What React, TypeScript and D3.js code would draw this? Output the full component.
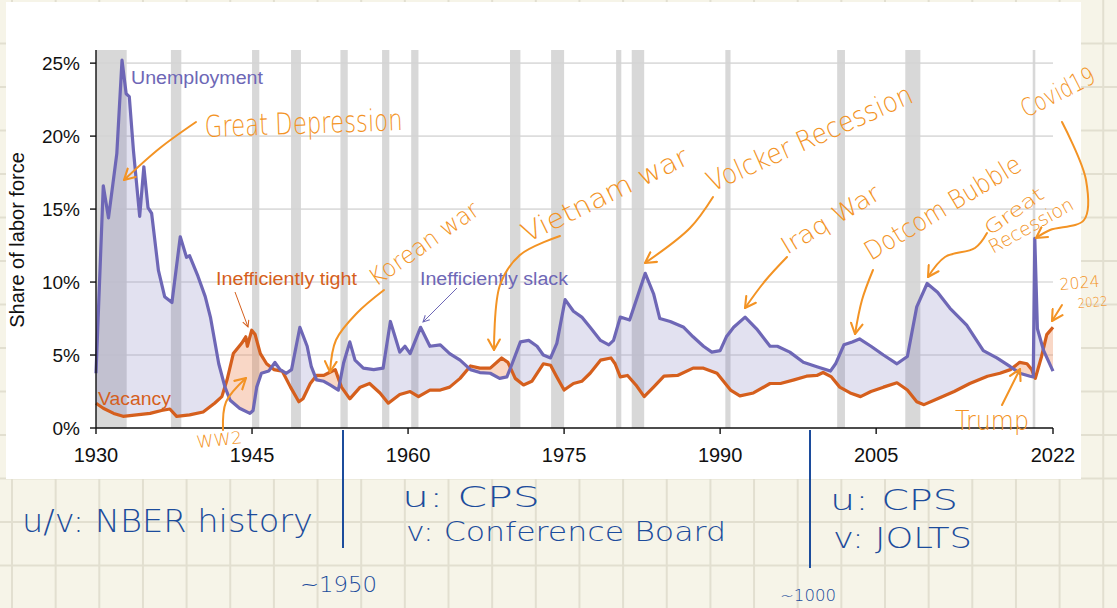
import * as d3 from 'd3'

// unemployment rate (% of labor force)
const uYears = [1930.0, 1930.7, 1931.2, 1931.8, 1932.0, 1932.5, 1932.9, 1933.2, 1933.6, 1934.2, 1934.6, 1935.0, 1935.35, 1936.0, 1936.6, 1937.3, 1938.1, 1938.7, 1939.0, 1939.8, 1940.5, 1941.0, 1941.8, 1942.4, 1942.9, 1943.8, 1944.8, 1945.1, 1945.45, 1945.9, 1946.6, 1947.2, 1947.7, 1948.3, 1948.8, 1949.6, 1950.3, 1950.7, 1951.2, 1951.9, 1952.5, 1953.3, 1953.8, 1954.4, 1954.9, 1955.7, 1956.7, 1957.6, 1958.3, 1958.75, 1959.2, 1959.7, 1960.2, 1961.2, 1962.1, 1963.1, 1964.0, 1965.0, 1966.0, 1966.9, 1967.9, 1968.8, 1969.5, 1970.0, 1970.8, 1971.6, 1972.4, 1973.0, 1973.7, 1974.3, 1975.1, 1975.9, 1976.7, 1977.5, 1978.5, 1979.3, 1979.75, 1980.4, 1981.3, 1982.8, 1983.6, 1984.2, 1985.2, 1986.5, 1987.4, 1988.4, 1989.2, 1990.0, 1990.6, 1991.3, 1992.4, 1993.5, 1994.8, 1995.5, 1996.7, 1998.0, 1999.3, 2000.6, 2001.1, 2001.9, 2002.7, 2003.4, 2004.5, 2005.7, 2007.0, 2008.0, 2008.9, 2009.9, 2010.9, 2012.1, 2013.7, 2015.3, 2016.6, 2017.9, 2018.8, 2019.8, 2020.1, 2020.25, 2020.5, 2021.1, 2022.0]
const uRate = [3.75, 16.6, 14.4, 17.7, 18.8, 25.2, 22.9, 22.7, 19.0, 14.5, 17.9, 15.1, 14.7, 10.8, 9.0, 8.6, 13.1, 11.7, 11.8, 10.4, 9.0, 7.6, 4.4, 2.8, 1.9, 1.35, 1.0, 1.2, 2.8, 3.75, 3.9, 4.5, 4.0, 3.75, 4.0, 6.9, 5.6, 4.2, 3.3, 3.2, 2.95, 2.6, 4.45, 5.9, 4.65, 4.1, 4.0, 4.1, 7.3, 6.25, 5.2, 5.6, 5.1, 6.9, 5.6, 5.7, 5.1, 4.65, 4.0, 3.8, 3.75, 3.4, 3.5, 4.4, 5.9, 6.0, 5.6, 5.0, 4.8, 5.8, 8.8, 8.0, 7.6, 6.9, 6.0, 5.7, 6.0, 7.6, 7.4, 10.6, 9.2, 7.5, 7.3, 6.9, 6.25, 5.6, 5.2, 5.3, 6.25, 6.9, 7.6, 6.8, 5.6, 5.6, 5.2, 4.5, 4.2, 3.9, 4.4, 5.7, 5.9, 6.1, 5.6, 5.0, 4.4, 4.9, 8.3, 9.9, 9.3, 8.2, 7.05, 5.3, 4.8, 4.2, 3.75, 3.55, 3.5, 13.0, 6.8, 5.3, 3.9]

// job vacancies (% of labor force)
const vYears = [1930.0, 1930.7, 1931.7, 1932.6, 1933.9, 1935.2, 1936.3, 1937.1, 1937.75, 1939.0, 1940.3, 1941.4, 1942.1, 1942.6, 1943.2, 1944.0, 1944.4, 1944.55, 1944.97, 1945.3, 1945.8, 1946.4, 1947.1, 1947.9, 1948.7, 1949.5, 1949.9, 1950.6, 1951.2, 1951.9, 1952.3, 1953.0, 1953.6, 1954.4, 1955.4, 1956.3, 1957.3, 1958.1, 1959.2, 1960.2, 1961.0, 1962.1, 1963.1, 1964.0, 1965.0, 1966.0, 1966.9, 1967.9, 1969.0, 1969.6, 1970.3, 1971.1, 1971.9, 1973.0, 1973.7, 1974.3, 1975.0, 1975.9, 1976.7, 1977.5, 1978.5, 1979.5, 1979.9, 1980.4, 1981.1, 1981.9, 1982.7, 1983.6, 1984.6, 1985.9, 1987.4, 1988.4, 1989.7, 1991.0, 1991.9, 1993.2, 1994.8, 1995.8, 1997.1, 1998.3, 1999.3, 1999.9, 2000.7, 2001.5, 2002.5, 2003.5, 2004.5, 2005.7, 2007.0, 2008.0, 2008.9, 2009.6, 2010.9, 2012.5, 2014.0, 2015.7, 2016.9, 2017.9, 2018.8, 2019.5, 2019.95, 2020.3, 2020.9, 2021.4, 2022.0]
const vRate = [1.7, 1.35, 1.0, 0.8, 0.9, 1.0, 1.2, 1.3, 0.8, 0.9, 1.1, 1.7, 2.15, 3.3, 5.1, 5.8, 6.25, 5.6, 6.7, 6.4, 5.1, 4.4, 4.0, 3.9, 2.8, 1.8, 2.0, 3.05, 3.6, 3.6, 3.75, 4.0, 2.8, 2.0, 2.8, 3.05, 2.4, 1.7, 2.3, 2.5, 2.15, 2.6, 2.6, 2.8, 3.4, 4.25, 4.1, 4.1, 4.8, 4.5, 3.4, 2.95, 3.2, 4.4, 4.3, 3.5, 2.6, 3.05, 3.2, 3.75, 4.65, 4.8, 4.4, 3.5, 3.6, 2.95, 2.15, 2.8, 3.55, 3.6, 4.1, 4.1, 3.75, 2.6, 2.2, 2.4, 3.05, 3.05, 3.3, 3.55, 3.6, 3.8, 3.5, 2.8, 2.4, 2.15, 2.5, 2.8, 3.1, 2.6, 1.8, 1.6, 2.0, 2.5, 3.05, 3.55, 3.75, 4.0, 4.5, 4.4, 4.0, 3.4, 4.9, 6.4, 6.9]

// NBER recessions (shaded)
const recStart = [1929.67, 1937.2, 1945.0, 1948.75, 1953.5, 1957.5, 1960.3, 1969.8, 1973.75, 1980.0, 1981.5, 1990.5, 2001.25, 2007.8, 2020.05]
const recEnd = [1932.95, 1938.2, 1945.7, 1949.7, 1954.2, 1958.2, 1961.0, 1970.8, 1975.0, 1980.5, 1982.7, 1991.0, 2002.0, 2009.25, 2020.3]

const xTicks = [1930, 1945, 1960, 1975, 1990, 2005, 2022]
const yTicks = [0, 5, 10, 15, 20, 25]

const W = 1117
const H = 608
const plot = { left: 96, right: 1053, top: 50, bottom: 428 }

const PURPLE = '#6e67b6'
const RUST = '#d55f1d'
const PEN_ORANGE = '#f39324'
const PEN_BLUE = '#1c4c9c'
const HAND = '"DejaVu Sans", sans-serif'
const SANS = '"Liberation Sans", Arial, Helvetica, sans-serif'

// orange pen notes (baseline start, rotation, size, width)
const penNotes = [
	{ t: 'Great Depression', x: 205, y: 137, r: -2, s: 30, w: 198 },
	{ t: 'WW2', x: 197, y: 448, r: -6, s: 17, w: 46 },
	{ t: 'Korean war', x: 376, y: 287, r: -35, s: 24, w: 128 },
	{ t: 'Vietnam war', x: 527, y: 243, r: -26, s: 27, w: 182 },
	{ t: 'Volcker Recession', x: 712, y: 192, r: -24, s: 28, w: 222 },
	{ t: 'Iraq War', x: 787, y: 255, r: -31, s: 24, w: 111 },
	{ t: 'Dotcom Bubble', x: 871, y: 261, r: -31, s: 26, w: 178 },
	{ t: 'Great', x: 990, y: 236, r: -35, s: 19, w: 68 },
	{ t: 'Recession', x: 993, y: 254, r: -29, s: 19, w: 94 },
	{ t: 'Covid19', x: 1026, y: 118, r: -27, s: 25, w: 80 },
	{ t: '2024', x: 1060, y: 290, r: -5, s: 16, w: 40 },
	{ t: '2022', x: 1078, y: 308, r: -5, s: 13, w: 30 },
	{ t: 'Trump', x: 955, y: 430, r: 0, s: 26, w: 74 },
]

const penArrows = [
	[[196, 122], [160, 148], [124, 180]],
	[[223, 430], [226, 402], [246, 378]],
	[[384, 290], [357, 313], [336, 340], [330, 372]],
	[[560, 236], [520, 255], [500, 285], [494, 350]],
	[[713, 197], [690, 228], [645, 263]],
	[[787, 257], [765, 281], [745, 308]],
	[[873, 270], [862, 300], [855, 334]],
	[[987, 233], [975, 248], [945, 257], [928, 277]],
	[[1062, 122], [1086, 180], [1084, 220], [1050, 230], [1036, 238]],
	[[1062, 305], [1052, 321]],
	[[1002, 405], [1020, 369]],
]

const blueNotes = [
	{ t: 'u/v: NBER history', x: 22, y: 532, s: 32, w: 291 },
	{ t: 'u: CPS', x: 402, y: 507, s: 28, w: 138 },
	{ t: 'v: Conference Board', x: 406, y: 541, s: 26, w: 320 },
	{ t: 'u: CPS', x: 830, y: 510, s: 28, w: 128 },
	{ t: 'v: JOLTS', x: 833, y: 548, s: 28, w: 139 },
	{ t: '~1950', x: 300, y: 592, s: 22, w: 77 },
	{ t: '~1000', x: 780, y: 601, s: 15, w: 56 },
]

export default function App() {
	const x = d3.scaleLinear().domain([1930, 2022]).range([plot.left, plot.right])
	const y = d3.scaleLinear().domain([0, 25.9]).range([plot.bottom, plot.top])

	const uPts: [number, number][] = uYears.map((yr, i) => [yr, uRate[i]])
	const vPts: [number, number][] = vYears.map((yr, i) => [yr, vRate[i]])

	const line = d3.line<[number, number]>().x(d => x(d[0])).y(d => y(d[1]))
	const below = d3.area<[number, number]>().x(d => x(d[0])).y0(plot.bottom).y1(d => y(d[1]))
	const above = d3.area<[number, number]>().x(d => x(d[0])).y0(0).y1(d => y(d[1]))
	const pen = d3.line().curve(d3.curveCatmullRom.alpha(0.5))

	// notebook paper grid
	const vLines = d3.range(0, 26).map(k => 12 + 43.65 * k)
	const hLines = d3.range(1, 14).map(k => 43.5 * k)

	return (
		<svg width={W} height={H} style={{ position: 'absolute', left: 0, top: 0 }}>
			<defs>
				<clipPath id="belowU"><path d={below(uPts) || ''} /></clipPath>
				<clipPath id="belowV"><path d={below(vPts) || ''} /></clipPath>
				<marker id="penHead" viewBox="0 0 12 12" refX="10" refY="6" markerWidth="14" markerHeight="14" markerUnits="userSpaceOnUse" orient="auto">
					<path d="M1,1 L10,6 L1,11" fill="none" stroke={PEN_ORANGE} strokeWidth="1.8" strokeLinecap="round" strokeLinejoin="round" />
				</marker>
				<marker id="rustHead" viewBox="0 0 10 10" refX="9" refY="5" markerWidth="8" markerHeight="8" markerUnits="userSpaceOnUse" orient="auto">
					<path d="M1,1 L9,5 L1,9" fill="none" stroke={RUST} strokeWidth="1.3" />
				</marker>
				<marker id="purpleHead" viewBox="0 0 10 10" refX="9" refY="5" markerWidth="8" markerHeight="8" markerUnits="userSpaceOnUse" orient="auto">
					<path d="M1,1 L9,5 L1,9" fill="none" stroke={PURPLE} strokeWidth="1.3" />
				</marker>
			</defs>

			<rect width={W} height={H} fill="#f6f4e8" />
			{vLines.map((lx, i) => <line key={'gv' + i} x1={lx} x2={lx} y1={0} y2={H} stroke="#e2dfd0" strokeWidth={2} />)}
			{hLines.map((ly, i) => <line key={'gh' + i} x1={0} x2={W} y1={ly} y2={ly} stroke="#e2dfd0" strokeWidth={2} />)}

			{/* screenshot panel */}
			<rect x={6} y={2} width={1075} height={477} fill="#ffffff" />

			{/* recessions */}
			{recStart.map((s, i) => {
				const x0 = Math.max(x(s), plot.left)
				return <rect key={'r' + i} x={x0} y={plot.top} width={x(recEnd[i]) - x0} height={plot.bottom - plot.top} fill="#d8d8d8" />
			})}

			{/* gridlines */}
			{yTicks.filter(t => t > 0).map(t => (
				<line key={'y' + t} x1={plot.left} x2={plot.right} y1={y(t)} y2={y(t)} stroke="#d4d4d4" strokeOpacity={0.8} strokeWidth={1.6} />
			))}

			{/* gaps between u and v */}
			<path d={above(vPts) || ''} clipPath="url(#belowU)" fill="rgba(110,103,182,0.2)" />
			<path d={above(uPts) || ''} clipPath="url(#belowV)" fill="rgba(232,112,52,0.28)" />

			<path d={line(vPts) || ''} fill="none" stroke={RUST} strokeWidth={3.2} strokeLinejoin="round" />
			<path d={line(uPts) || ''} fill="none" stroke={PURPLE} strokeWidth={3.2} strokeLinejoin="round" />

			{/* axes */}
			<line x1={plot.left} x2={plot.left} y1={plot.top} y2={plot.bottom} stroke="#111" strokeWidth={1.4} />
			<line x1={plot.left} x2={plot.right} y1={plot.bottom} y2={plot.bottom} stroke="#111" strokeWidth={1.4} />
			{yTicks.map(t => (
				<g key={'yt' + t}>
					<line x1={plot.left - 6} x2={plot.left} y1={y(t)} y2={y(t)} stroke="#111" strokeWidth={1.4} />
					<text x={plot.left - 16} y={y(t)} dy="0.36em" textAnchor="end" fontFamily={SANS} fontSize={19} fill="#111">{t}%</text>
				</g>
			))}
			{xTicks.map(t => (
				<g key={'xt' + t}>
					<line x1={x(t)} x2={x(t)} y1={plot.bottom} y2={plot.bottom + 6} stroke="#111" strokeWidth={1.4} />
					<text x={x(t)} y={plot.bottom + 34} textAnchor="middle" fontFamily={SANS} fontSize={20} fill="#111">{t}</text>
				</g>
			))}
			<text transform="translate(24,240) rotate(-90)" textAnchor="middle" fontFamily={SANS} fontSize={20} fill="#111">Share of labor force</text>

			{/* series labels */}
			<text x={131} y={84} fontFamily={SANS} fontSize={18} fill={PURPLE} textLength={132} lengthAdjust="spacingAndGlyphs">Unemployment</text>
			<text x={98} y={405} fontFamily={SANS} fontSize={18} fill={RUST} textLength={73} lengthAdjust="spacingAndGlyphs">Vacancy</text>
			<text x={216} y={285} fontFamily={SANS} fontSize={18} fill={RUST} textLength={141} lengthAdjust="spacingAndGlyphs">Inefficiently tight</text>
			<text x={420} y={285} fontFamily={SANS} fontSize={18} fill={PURPLE} textLength={148} lengthAdjust="spacingAndGlyphs">Inefficiently slack</text>
			<path d="M235,292 L248,327" stroke={RUST} strokeWidth={1} markerEnd="url(#rustHead)" />
			<path d="M457,288 L423,322" stroke={PURPLE} strokeWidth={1} markerEnd="url(#purpleHead)" />

			{/* orange pen */}
			{penArrows.map((pts, i) => (
				<path key={'pa' + i} d={pen(pts as [number, number][]) || ''} fill="none" stroke={PEN_ORANGE} strokeWidth={2} strokeLinecap="round" markerEnd="url(#penHead)" />
			))}
			{penNotes.map((n, i) => (
				<text key={'pn' + i} transform={`translate(${n.x},${n.y}) rotate(${n.r})`} fontFamily={HAND} fontWeight={300} fontSize={n.s} fill={PEN_ORANGE} textLength={n.w} lengthAdjust="spacingAndGlyphs">{n.t}</text>
			))}

			{/* blue pen */}
			<line x1={343} x2={343} y1={430} y2={548} stroke={PEN_BLUE} strokeWidth={2} />
			<line x1={810} x2={810} y1={430} y2={568} stroke={PEN_BLUE} strokeWidth={2} />
			{blueNotes.map((n, i) => (
				<text key={'bn' + i} x={n.x} y={n.y} fontFamily={HAND} fontWeight={300} fontSize={n.s} fill={PEN_BLUE} textLength={n.w} lengthAdjust="spacingAndGlyphs">{n.t}</text>
			))}
		</svg>
	)
}
